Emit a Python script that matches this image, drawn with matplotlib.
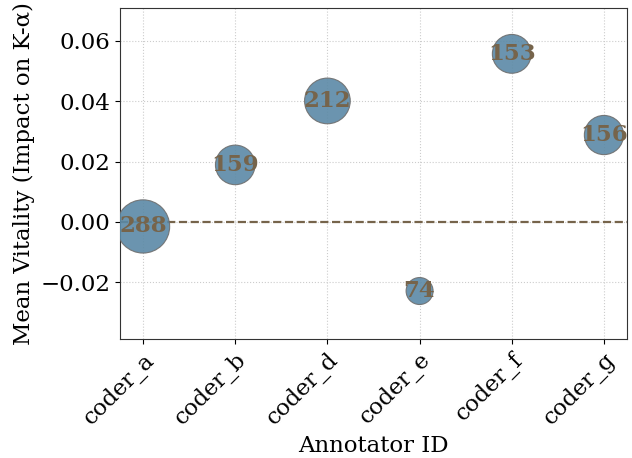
import numpy as np
import matplotlib.pyplot as plt

plt.rcParams['font.family'] = 'DejaVu Serif'
plt.rcParams['font.size'] = 16.5

# data
coders = ['coder_a', 'coder_b', 'coder_d', 'coder_e', 'coder_f', 'coder_g']
vitality = [-0.0015, 0.0189, 0.0401, -0.0229, 0.0557, 0.0288]
counts = [288, 159, 212, 74, 153, 156]

bubble_col = '#5b89a6'
note_col = '#76644b'

fig = plt.figure(figsize=(6.32, 4.58), dpi=100)
ax = fig.add_axes([120 / 632, 1 - 339 / 458, 507 / 632, 331 / 458])

x = np.arange(len(coders))
ax.scatter(x, vitality, s=np.array(counts) * 5.1, color=bubble_col, alpha=0.9,
           edgecolor='#6e6e6e', linewidth=0.8, zorder=3)
for xi, yi, c in zip(x, vitality, counts):
    ax.text(xi, yi, str(c), ha='center', va='center', fontsize=16.5,
            fontweight='bold', color=note_col, zorder=4)

ax.axhline(0, color=note_col, linestyle='--', linewidth=1.6, zorder=2)

ax.set_xticks(x)
ax.set_xticklabels(coders, rotation=45, ha='right', rotation_mode='anchor')
ax.set_xlim(-0.25, 5.25)
ax.set_ylim(-0.0388, 0.0709)
ax.set_yticks([-0.02, 0.0, 0.02, 0.04, 0.06])
ax.grid(True, linestyle=':', color='#cccccc', linewidth=0.8)
ax.set_axisbelow(True)
ax.set_xlabel('Annotator ID')
ax.set_ylabel('Mean Vitality (Impact on K-α)')
for sp in ax.spines.values():
    sp.set_color('#333333')

fig.savefig('out.png', dpi=100)
